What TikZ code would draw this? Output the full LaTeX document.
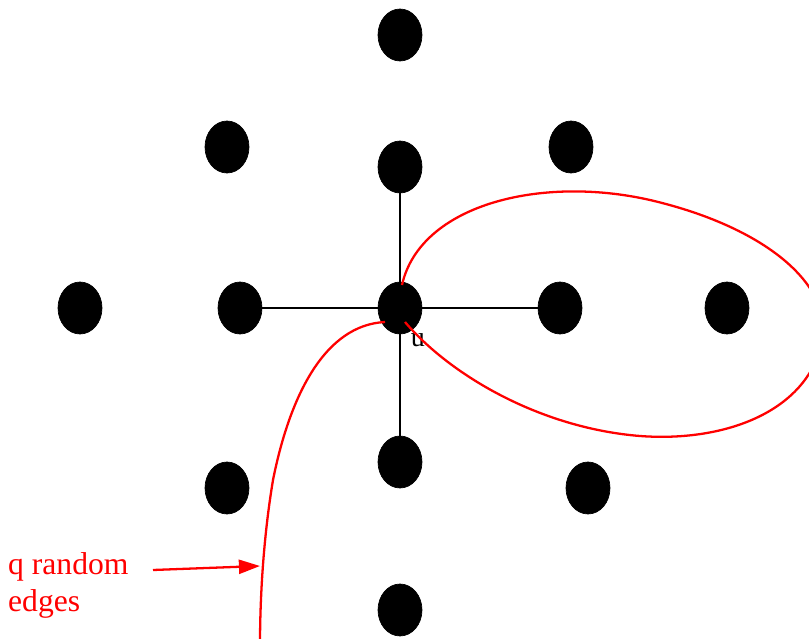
\documentclass[tikz,border=0pt]{standalone}
\usepackage{fontspec}
\setmainfont{Liberation Serif}
\usetikzlibrary{shapes.geometric,arrows.meta}
\begin{document}
\begin{tikzpicture}[x=0.02cm, y=-0.02cm]
        \tikzstyle{dot}=[draw, ellipse, fill=black, inner sep=0pt, minimum width=0.88cm, minimum height=1.04cm];
        \tikzstyle{rededge}=[red, line width=1.3pt];
        \useasboundingbox (0,0) rectangle (809,639);

        % grid of vertices
        \foreach \name/\x/\y in {top/400/35, nw/227/147, up/400/167, ne/571/147,
                farleft/80/308, left/240/308, right/560/308, farright/727/308,
                sw/227/488, down/400/462, se/588/488, bottom/400/610}
            \node[dot] (\name) at (\x,\y) {};
        \node[dot] (u) at (400,308) {};
        \node[font=\fontsize{16}{18}\selectfont] (ulabel) at (418,340) {u};

        % lattice edges of u
        \draw[line width=1.1pt] (u) -- (up);
        \draw[line width=1.1pt] (u) -- (left);
        \draw[line width=1.1pt] (u) -- (right);
        \draw[line width=1.1pt] (u) -- (down);

        % random edges
        \begin{scope}
            \clip (0,0) rectangle (809,639);
            \draw[rededge] (402,285) .. controls (420,205) and (540,175) .. (650,200)
                .. controls (770,228) and (840,290) .. (820,350)
                .. controls (800,415) and (720,442) .. (640,436)
                .. controls (540,428) and (450,375) .. (405,322);
            \draw[rededge] (385,322) .. controls (325,325) and (290,395) .. (273,480)
                .. controls (263,540) and (260,600) .. (260,645);
        \end{scope}
        \node[red, font=\fontsize{18}{21}\selectfont, align=left, anchor=north west] (qlabel) at (2,546) {q random\\edges};
        \coordinate (hit) at (260,566);
        \draw[red, line width=1.3pt, -{Triangle[length=12pt, width=8pt]}] (153,570) -- (hit);
    \end{tikzpicture}
\end{document}
